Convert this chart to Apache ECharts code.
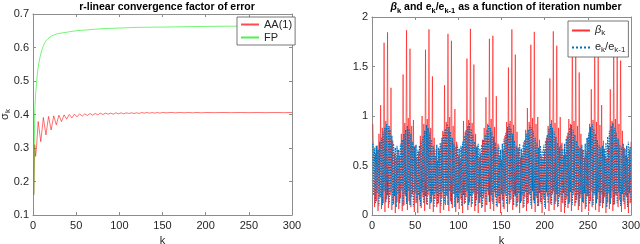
<!DOCTYPE html>
<html><head><meta charset="utf-8">
<script src="https://cdn.jsdelivr.net/npm/echarts@6/dist/echarts.min.js"></script>
<style>html,body{margin:0;padding:0;background:#fff}#c{width:640px;height:244px}</style>
</head><body><div id="c"></div>
<script>
// ---- data ----
const kTicks = [0, 50, 100, 150, 200, 250, 300];
const leftYTicks = [0.1, 0.2, 0.3, 0.4, 0.5, 0.6, 0.7];
const rightYTicks = [0, 0.5, 1, 1.5, 2];

// FP: [k, sigma_k]
const fpK = [1, 2, 3, 4, 5, 6, 8, 10, 12, 15, 20, 25, 30, 40, 50, 60, 80, 100, 120, 150, 200, 250, 300];
const fpV = [0.16, 0.40, 0.46, 0.49, 0.52, 0.54, 0.57, 0.59, 0.605, 0.62, 0.632, 0.638, 0.642, 0.646, 0.650, 0.652, 0.656, 0.658, 0.660, 0.661, 0.663, 0.664, 0.665];

// AA(1): [k, sigma_k]
const aaK = [1, 2, 3, 4, 6, 9, 12, 15, 18, 21, 24, 27, 30, 33, 36, 39, 42, 45, 48, 51, 54, 57, 60, 63, 66, 69, 72, 75, 78, 81, 84, 87, 90, 93, 96, 99, 102, 105, 108, 111, 114, 117, 120, 123, 126, 129, 132, 135, 138, 141, 144, 147, 150, 155, 160, 165, 170, 175, 180, 185, 190, 195, 200, 210, 220, 230, 240, 250, 260, 270, 280, 290, 300];
const aaV = [0.16, 0.31, 0.275, 0.30, 0.379, 0.319, 0.391, 0.339, 0.394, 0.354, 0.396, 0.369, 0.398, 0.379, 0.399, 0.386, 0.400, 0.390, 0.401, 0.393, 0.402, 0.395, 0.402, 0.397, 0.403, 0.398, 0.403, 0.399, 0.404, 0.400, 0.404, 0.401, 0.404, 0.401, 0.405, 0.402, 0.405, 0.402, 0.405, 0.403, 0.405, 0.403, 0.405, 0.403, 0.406, 0.404, 0.406, 0.404, 0.406, 0.404, 0.406, 0.404, 0.406, 0.405, 0.406, 0.405, 0.406, 0.405, 0.406, 0.405, 0.406, 0.405, 0.406, 0.4055, 0.406, 0.4055, 0.406, 0.4055, 0.406, 0.4055, 0.406, 0.4055, 0.406];

// beta_k, k = 1..300
const beta = [
0.92,0.55,0.08,0.62,0.14,0.70,0.04,0.82,0.18,1.11,
0.06,0.88,0.12,1.74,0.03,0.95,0.16,1.845,0.07,0.90,
0.20,1.285,0.05,0.75,0.11,0.62,0.02,0.58,0.13,0.66,
0.06,0.60,0.17,0.82,0.04,1.42,0.10,0.93,0.19,1.866,
0.05,0.98,0.14,1.68,0.08,0.90,0.21,0.96,0.03,0.70,
0.12,0.58,0.02,0.64,0.15,0.80,0.07,1.00,0.18,0.92,
0.04,1.67,0.11,0.97,0.20,1.875,0.06,0.88,0.13,1.40,
0.03,0.78,0.16,0.60,0.08,0.55,0.12,0.66,0.02,0.72,
0.17,0.85,0.05,1.31,0.10,0.94,0.19,1.83,0.04,0.99,
0.14,1.76,0.07,0.90,0.22,1.07,0.03,0.74,0.12,0.60,
0.06,0.57,0.16,0.68,0.02,0.95,0.11,0.84,0.18,1.58,
0.05,0.96,0.13,1.88,0.08,0.93,0.21,1.52,0.04,0.82,
0.15,0.70,0.02,0.58,0.12,0.62,0.07,0.76,0.17,0.88,
0.03,1.19,0.10,0.92,0.20,1.78,0.06,0.97,0.14,1.81,
0.04,0.89,0.18,1.20,0.08,0.72,0.12,0.60,0.02,0.56,
0.15,0.66,0.06,0.80,0.19,0.94,0.03,1.49,0.11,0.95,
0.16,1.875,0.05,0.91,0.21,1.62,0.08,0.84,0.13,0.68,
0.02,0.58,0.14,0.61,0.07,0.74,0.18,0.86,0.04,1.08,
0.12,0.94,0.20,1.72,0.06,0.98,0.15,1.85,0.03,0.92,
0.17,0.99,0.09,0.76,0.13,0.60,0.02,0.57,0.16,0.65,
0.06,0.78,0.19,0.90,0.04,1.38,0.11,0.96,0.21,1.855,
0.05,0.93,0.14,1.71,0.08,0.88,0.18,0.99,0.03,0.73,
0.12,0.60,0.02,0.62,0.16,0.80,0.07,0.97,0.13,0.92,
0.04,1.87,0.20,0.95,0.09,1.74,0.15,0.90,0.05,1.44,
0.17,0.82,0.03,0.66,0.12,0.58,0.06,0.63,0.19,0.78,
0.04,0.92,0.14,1.27,0.08,0.96,0.21,1.84,0.05,0.94,
0.16,1.80,0.03,0.91,0.12,1.11,0.07,0.75,0.18,0.60,
0.02,0.57,0.13,0.70,0.06,1.27,0.17,0.95,0.04,1.82,
0.11,0.97,0.20,1.86,0.08,0.92,0.15,1.56,0.03,0.85,
0.14,0.68,0.06,0.60,0.18,0.58,0.02,0.66,0.12,0.74
];

// e_k / e_{k-1}, k = 1..300
const ratio = [
0.72,0.20,0.68,0.12,0.70,0.22,0.66,0.09,0.74,0.18,
0.78,0.10,0.84,0.24,0.88,0.13,0.92,0.20,0.90,0.11,
0.86,0.23,0.80,0.10,0.72,0.19,0.68,0.08,0.70,0.21,
0.66,0.12,0.72,0.25,0.76,0.09,0.82,0.21,0.86,0.11,
0.90,0.24,0.87,0.10,0.82,0.18,0.74,0.08,0.69,0.22,
0.71,0.13,0.66,0.20,0.70,0.09,0.75,0.23,0.80,0.12,
0.85,0.19,0.91,0.10,0.88,0.24,0.83,0.12,0.76,0.20,
0.70,0.08,0.67,0.22,0.71,0.11,0.68,0.19,0.73,0.09,
0.78,0.23,0.83,0.12,0.87,0.20,0.92,0.10,0.89,0.24,
0.84,0.11,0.78,0.21,0.72,0.08,0.69,0.18,0.71,0.13,
0.67,0.22,0.70,0.09,0.74,0.20,0.80,0.12,0.86,0.24,
0.90,0.10,0.93,0.19,0.87,0.11,0.81,0.23,0.74,0.09,
0.69,0.21,0.72,0.12,0.67,0.18,0.71,0.08,0.76,0.22,
0.81,0.10,0.86,0.24,0.91,0.13,0.88,0.20,0.84,0.11,
0.79,0.23,0.73,0.09,0.68,0.19,0.70,0.12,0.66,0.21,
0.72,0.08,0.77,0.22,0.83,0.11,0.89,0.20,0.92,0.13,
0.87,0.24,0.82,0.10,0.75,0.19,0.70,0.09,0.68,0.22,
0.72,0.12,0.67,0.20,0.71,0.08,0.76,0.23,0.82,0.11,
0.86,0.21,0.91,0.10,0.89,0.24,0.85,0.12,0.78,0.19,
0.73,0.09,0.68,0.22,0.70,0.11,0.66,0.20,0.71,0.08,
0.75,0.23,0.81,0.12,0.87,0.19,0.92,0.10,0.88,0.24,
0.84,0.11,0.79,0.21,0.73,0.09,0.69,0.20,0.71,0.13,
0.67,0.22,0.72,0.08,0.77,0.19,0.83,0.11,0.88,0.23,
0.91,0.10,0.86,0.24,0.81,0.12,0.75,0.20,0.70,0.09,
0.68,0.21,0.71,0.13,0.66,0.22,0.72,0.08,0.78,0.19,
0.83,0.11,0.89,0.24,0.92,0.10,0.87,0.20,0.82,0.12,
0.76,0.23,0.71,0.09,0.68,0.21,0.70,0.12,0.67,0.19,
0.73,0.08,0.79,0.22,0.85,0.11,0.90,0.24,0.93,0.10,
0.88,0.20,0.83,0.12,0.77,0.23,0.71,0.09,0.69,0.21,
0.72,0.11,0.67,0.20,0.70,0.08,0.74,0.22,0.69,0.13
];

// ---- chart ----
const FONT = '"Liberation Sans", Arial, Helvetica, sans-serif';
const AX = '#8c8c8c';
const TXT = '#262626';
const pairs = (ks, vs) => ks.map((k, i) => [k, vs[i]]);
const seq = vs => vs.map((v, i) => [i + 1, v]);

function xAx(grid, top) {
  return {
    gridIndex: grid, type: 'value', min: 0, max: 300, interval: 50,
    position: top ? 'top' : 'bottom',
    axisLine: { show: true, onZero: false, lineStyle: { color: AX, width: 1 } },
    axisTick: { show: true, inside: true, length: 3, lineStyle: { color: AX } },
    axisLabel: { show: !top, color: TXT, fontSize: 11, fontFamily: FONT, margin: 5,
      formatter: v => kTicks.includes(v) ? String(v) : '' },
    splitLine: { show: false },
    name: top ? '' : 'k', nameLocation: 'middle', nameGap: 19,
    nameTextStyle: { color: TXT, fontSize: 11, fontFamily: FONT }
  };
}
function yAx(grid, right, min, max, interval, ticks, name) {
  return {
    gridIndex: grid, type: 'value', min: min, max: max, interval: interval,
    position: right ? 'right' : 'left',
    axisLine: { show: true, onZero: false, lineStyle: { color: AX, width: 1 } },
    axisTick: { show: true, inside: true, length: 3, lineStyle: { color: AX } },
    axisLabel: { show: !right, color: TXT, fontSize: 11, fontFamily: FONT, margin: 4,
      formatter: v => { const t = ticks.find(x => Math.abs(x - v) < 1e-9); return t === undefined ? '' : String(t); } },
    splitLine: { show: false },
    name: name || '', nameLocation: 'middle', nameGap: 21, nameRotate: 90, nameMoveOverlap: false,
    nameTextStyle: { color: TXT, fontSize: 11, fontFamily: FONT,
      rich: { n: { fontSize: 11, fontFamily: FONT, color: TXT, verticalAlign: 'top' },
              s: { fontSize: 8, fontFamily: FONT, color: TXT, verticalAlign: 'top', padding: [5, 0, 0, 0] } } }
  };
}

const richTitle = {
  n: { fontSize: 10.5, fontWeight: 'bold', fontFamily: FONT, color: '#000', verticalAlign: 'top' },
  b: { fontSize: 10.5, fontWeight: 'bold', fontStyle: 'italic', fontFamily: FONT, color: '#000', verticalAlign: 'top' },
  s: { fontSize: 7.5, fontWeight: 'bold', fontFamily: FONT, color: '#000', verticalAlign: 'top', padding: [5, 0, 0, 0] }
};
const richLegend = {
  n: { fontSize: 11, fontFamily: FONT, color: TXT, verticalAlign: 'top' },
  b: { fontSize: 11, fontStyle: 'italic', fontFamily: FONT, color: TXT, verticalAlign: 'top' },
  s: { fontSize: 8, fontFamily: FONT, color: TXT, verticalAlign: 'top', padding: [5, 0, 0, 0] }
};
const legendItemStyle = { color: 'rgba(0,0,0,0)', borderWidth: 0, opacity: 0 };

const chart = echarts.init(document.getElementById('c'), null, { renderer: 'canvas' });
chart.setOption({
  animation: false,
  backgroundColor: '#fff',
  title: [
    { text: 'r-linear convergence factor of error', left: 162, textAlign: 'center', top: -3,
      textStyle: { fontSize: 10.5, fontWeight: 'bold', fontFamily: FONT, color: '#000' } },
    { text: '{b|β}{s|k}{n| and e}{s|k}{n|/e}{s|k-1}{n| as a function of iteration number}',
      left: 501, textAlign: 'center', top: -3,
      textStyle: { fontSize: 10.5, fontWeight: 'bold', fontFamily: FONT, color: '#000', rich: richTitle } }
  ],
  grid: [
    { left: 33, top: 14, width: 259, height: 201, containLabel: false, outerBoundsMode: 'none' },
    { left: 372, top: 17, width: 259, height: 198, containLabel: false, outerBoundsMode: 'none' }
  ],
  xAxis: [xAx(0, false), xAx(0, true), xAx(1, false), xAx(1, true)],
  yAxis: [
    yAx(0, false, 0.1, 0.7, 0.1, leftYTicks, '{n|σ}{s|k}'),
    yAx(0, true, 0.1, 0.7, 0.1, leftYTicks),
    yAx(1, false, 0, 2, 0.5, rightYTicks),
    yAx(1, true, 0, 2, 0.5, rightYTicks)
  ],
  legend: [
    { data: ['AA(1)', 'FP'], orient: 'vertical', left: 237, top: 17,
      backgroundColor: '#fff', borderColor: '#555', borderWidth: 0.8, borderRadius: 0,
      padding: [2, 3, 2, 3], itemGap: 2, itemWidth: 18, itemHeight: 12,
      itemStyle: legendItemStyle,
      textStyle: { fontSize: 11, fontFamily: FONT, color: TXT } },
    { data: ['beta', 'ratio'], orient: 'vertical', left: 568, top: 21,
      backgroundColor: '#fff', borderColor: '#555', borderWidth: 0.8, borderRadius: 0,
      padding: [3, 3, 3, 3], itemGap: 4, itemWidth: 18, itemHeight: 14,
      itemStyle: legendItemStyle,
      formatter: n => n === 'beta' ? '{b|β}{s|k}' : '{n|e}{s|k}{n|/e}{s|k-1}',
      textStyle: { fontSize: 11, fontFamily: FONT, color: TXT, rich: richLegend } }
  ],
  series: [
    { name: 'AA(1)', type: 'line', xAxisIndex: 0, yAxisIndex: 0, data: pairs(aaK, aaV),
      symbol: 'none', lineStyle: { color: '#ff0000', width: 0.8, opacity: 0.7 }, itemStyle: { color: '#ff0000' } },
    { name: 'FP', type: 'line', xAxisIndex: 0, yAxisIndex: 0, data: pairs(fpK, fpV),
      symbol: 'none', smooth: 0.3, lineStyle: { color: '#00ee00', width: 0.8, opacity: 0.7 }, itemStyle: { color: '#00ee00' } },
    { name: 'beta', type: 'line', xAxisIndex: 2, yAxisIndex: 2, data: seq(beta),
      symbol: 'none', lineStyle: { color: '#ff0000', width: 0.7, opacity: 0.8 }, itemStyle: { color: '#ff0000' } },
    { name: 'ratio', type: 'line', xAxisIndex: 2, yAxisIndex: 2, data: seq(ratio),
      symbol: 'none', lineStyle: { color: '#0072BD', width: 1.3, type: 'dotted' }, itemStyle: { color: '#0072BD' } }
  ]
});
</script></body></html>
